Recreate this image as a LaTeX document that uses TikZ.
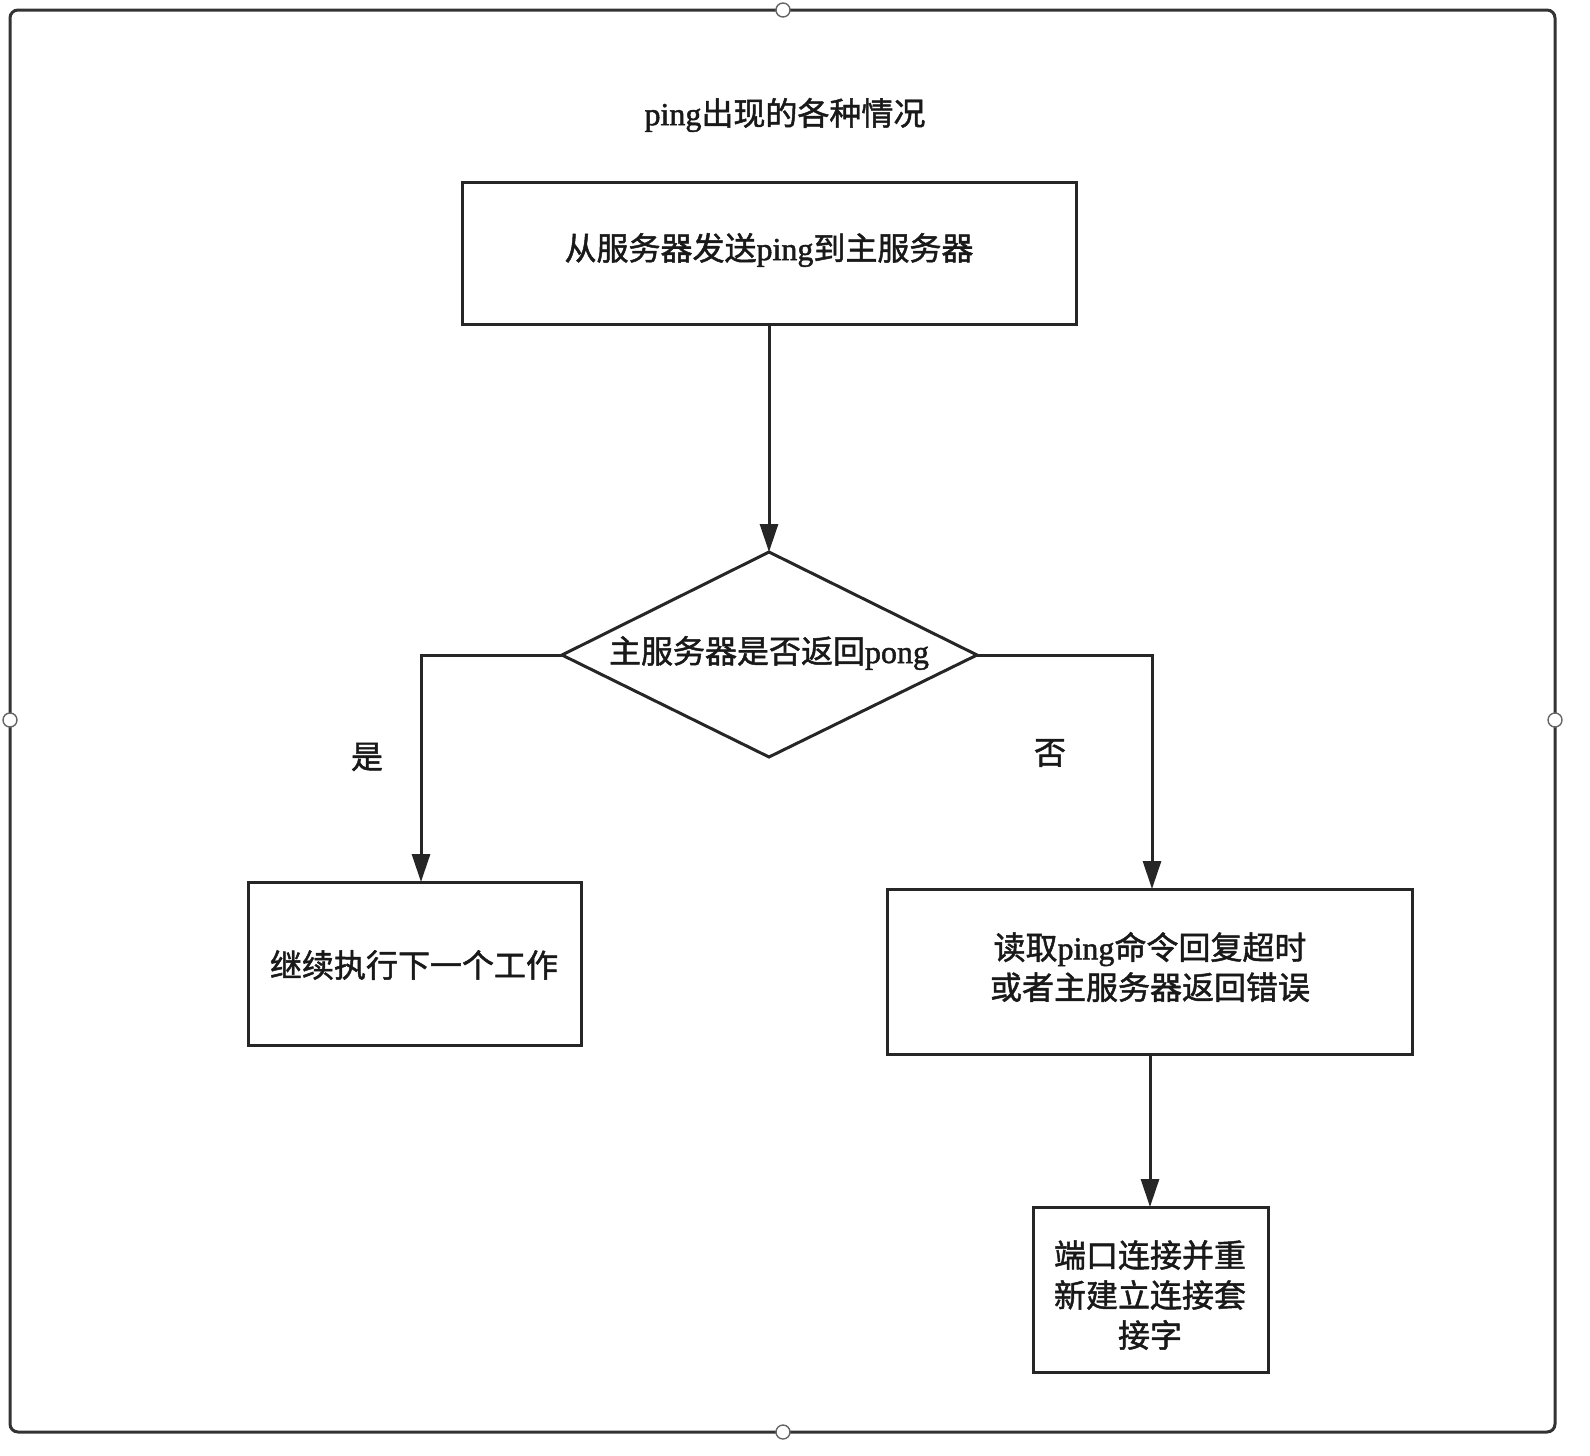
\documentclass[tikz,border=0pt]{standalone}
\usepackage{fontspec}
\setmainfont{Noto Sans CJK SC}[FakeBold=1.5]
\newfontfamily\lat{Liberation Serif}[FakeBold=1.5]
\usetikzlibrary{arrows.meta,shapes.geometric}
\begin{document}
\begin{tikzpicture}[x=0.5pt,y=-0.5pt,
  box/.style={draw=black!85,line width=1.5pt,inner sep=0pt},
  txt/.style={font=\fontsize{16}{20}\selectfont,align=center,text=black!90},
  arr/.style={draw=black!85,line width=1.5pt,-{Triangle[length=14pt,width=9pt]}},
  hd/.style={circle,draw=black!60,fill=white,inner sep=0pt,minimum size=7pt,line width=0.7pt}]
\useasboundingbox (0,0) rectangle (1590,1456);
\draw[draw=black!80,line width=1.5pt,rounded corners=4pt] (10,10) rectangle (1555,1432);
\node[hd] (h1) at (783,10) {};
\node[hd] (h2) at (10,720) {};
\node[hd] (h3) at (1555,720) {};
\node[hd] (h4) at (783,1432) {};
\node[txt] (title) at (785,115) {{\lat ping}出现的各种情况};
\draw[box] (462,182) rectangle (1076,324);
\node[txt] (b1) at (769,250) {从服务器发送{\lat ping}到主服务器};
\coordinate (b1s) at (769,324);
\draw[box] (769,552) -- (977,655) -- (769,757) -- (562,655) -- cycle;
\coordinate (dt) at (769,552);
\coordinate (dl) at (562,655);
\coordinate (dr) at (977,655);
\node[txt] (d) at (769,653) {主服务器是否返回{\lat pong}};
\draw[box] (248,882) rectangle (581,1045);
\node[txt] (yes) at (414,965) {继续执行下一个工作};
\coordinate (yt) at (421,882);
\draw[box] (887,889) rectangle (1412,1054);
\node[txt] (no) at (1150,967) {读取{\lat ping}命令回复超时\\或者主服务器返回错误};
\coordinate (nt) at (1152,889);
\coordinate (nb) at (1150,1054);
\draw[box] (1033,1207) rectangle (1268,1372);
\node[txt] (last) at (1150,1295) {端口连接并重\\新建立连接套\\接字};
\coordinate (lt) at (1150,1207);
\node[txt] (ly) at (367,757) {是};
\node[txt] (ln) at (1050,753) {否};
\draw[arr] (b1s) -- (dt);
\draw[arr] (dl) -- (421,655) -- (yt);
\draw[arr] (dr) -- (1152,655) -- (nt);
\draw[arr] (nb) -- (lt);
\end{tikzpicture}
\end{document}
